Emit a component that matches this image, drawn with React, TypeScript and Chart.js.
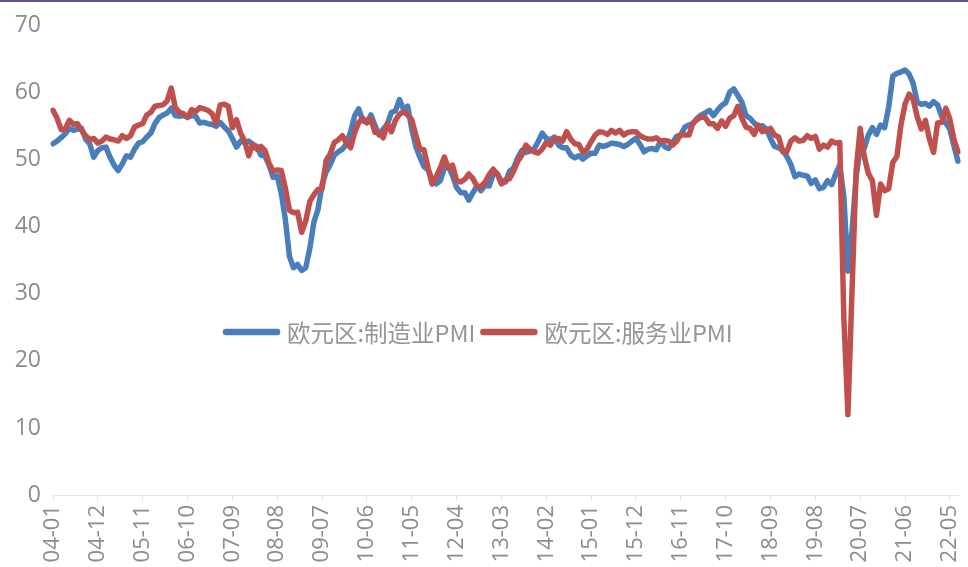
import React, { useEffect, useRef } from "react";
import { Chart, registerables } from "chart.js";

Chart.register(...registerables);

// Monthly observations, 2004-01 .. 2022-07
const FIRST_YEAR = 2004;
const MONTH_COUNT = 223;
const LABEL_STEP = 11;

const months: string[] = [];
for (let i = 0; i < MONTH_COUNT; i++) {
  const y = (FIRST_YEAR + Math.floor(i / 12)) % 100;
  const m = (i % 12) + 1;
  months.push(`${String(y).padStart(2, "0")}-${String(m).padStart(2, "0")}`);
}

const manufacturingLabel = "欧元区:制造业PMI";
const servicesLabel = "欧元区:服务业PMI";

const manufacturingPMI = [
  52.4, 52.8, 53.3, 53.9, 54.7, 54.4, 54.6, 54.7, 53.1, 52.4, 50.4, 51.4, // 2004
  51.8, 51.9, 50.4, 49.2, 48.4, 49.4, 50.6, 50.4, 51.6, 52.5, 52.7, 53.4, // 2005
  54.0, 55.4, 56.3, 56.7, 57.0, 57.7, 56.6, 56.5, 56.6, 56.4, 56.6, 56.5, // 2006
  55.5, 55.6, 55.4, 55.3, 55.0, 55.6, 54.9, 54.3, 53.2, 51.9, 52.8, 52.6, // 2007
  52.8, 52.3, 52.0, 50.7, 50.6, 49.2, 47.4, 47.6, 45.0, 41.1, 35.6, 33.9, // 2008
  34.4, 33.5, 33.9, 36.8, 40.7, 42.6, 46.3, 48.2, 49.3, 50.7, 51.2, 51.6, // 2009
  52.4, 54.2, 56.6, 57.6, 55.8, 55.6, 56.7, 55.1, 53.7, 54.6, 55.3, 57.1, // 2010
  57.3, 59.0, 57.5, 58.0, 54.6, 52.0, 50.4, 49.0, 48.5, 47.1, 46.4, 46.9, // 2011
  48.8, 49.0, 47.7, 45.9, 45.1, 45.1, 44.0, 45.1, 46.1, 45.4, 46.2, 46.1, // 2012
  47.9, 47.9, 46.8, 46.7, 48.3, 48.8, 50.3, 51.4, 51.1, 51.3, 51.6, 52.7, // 2013
  54.0, 53.2, 53.0, 53.4, 52.2, 51.8, 51.8, 50.7, 50.3, 50.6, 50.1, 50.6, // 2014
  51.0, 51.0, 52.2, 52.0, 52.2, 52.5, 52.4, 52.3, 52.0, 52.3, 52.8, 53.2, // 2015
  52.3, 51.2, 51.6, 51.7, 51.5, 52.8, 52.0, 51.7, 52.6, 53.5, 53.7, 54.9, // 2016
  55.2, 55.4, 56.2, 56.7, 57.0, 57.4, 56.6, 57.4, 58.1, 58.5, 60.1, 60.6, // 2017
  59.6, 58.6, 56.6, 56.2, 55.5, 54.9, 55.1, 54.6, 53.2, 52.0, 51.8, 51.4, // 2018
  50.5, 49.3, 47.5, 47.9, 47.7, 47.6, 46.5, 47.0, 45.7, 45.9, 46.9, 46.3, // 2019
  47.9, 49.2, 44.5, 33.4, 39.4, 47.4, 51.8, 51.7, 53.7, 54.8, 53.8, 55.2, // 2020
  54.8, 57.9, 62.5, 62.9, 63.1, 63.4, 62.8, 61.4, 58.6, 58.3, 58.4, 58.0, // 2021
  58.7, 58.2, 56.5, 55.5, 54.6, 52.1, 49.8, // 2022
];

const servicesPMI = [
  57.4, 56.2, 54.5, 54.6, 55.9, 55.3, 55.4, 54.4, 53.6, 53.0, 53.2, 52.5, // 2004
  52.8, 53.4, 53.1, 53.0, 52.8, 53.6, 53.2, 53.6, 54.9, 55.2, 55.4, 56.7, // 2005
  57.1, 58.0, 58.1, 58.2, 58.8, 60.7, 57.8, 57.1, 56.9, 56.3, 57.5, 57.2, // 2006
  57.8, 57.6, 57.4, 56.9, 55.5, 58.2, 58.3, 58.0, 54.8, 56.0, 54.0, 52.8, // 2007
  50.6, 52.3, 51.6, 52.0, 51.4, 49.5, 48.3, 48.5, 48.4, 45.8, 42.5, 42.1, // 2008
  42.2, 39.2, 40.9, 43.8, 44.8, 45.6, 45.7, 49.9, 50.9, 52.6, 53.0, 53.6, // 2009
  52.5, 51.8, 54.1, 55.6, 56.2, 55.5, 56.0, 54.1, 54.1, 53.3, 55.4, 54.2, // 2010
  55.9, 56.8, 57.2, 56.7, 56.0, 53.7, 51.6, 51.5, 48.8, 46.4, 47.5, 48.8, // 2011
  50.4, 48.8, 49.2, 46.9, 46.7, 47.1, 47.9, 47.2, 46.1, 46.0, 46.7, 47.8, // 2012
  48.6, 47.9, 46.4, 47.0, 47.2, 48.3, 49.8, 50.7, 52.2, 51.6, 51.2, 51.0, // 2013
  51.6, 52.6, 52.2, 53.1, 53.2, 52.8, 54.2, 53.1, 52.4, 52.3, 51.1, 51.6, // 2014
  52.7, 53.7, 54.2, 54.1, 53.8, 54.4, 54.0, 54.4, 53.7, 54.1, 54.2, 54.2, // 2015
  53.6, 53.3, 53.1, 53.1, 53.3, 52.8, 52.9, 52.8, 52.2, 52.8, 53.8, 53.7, // 2016
  53.7, 55.5, 56.0, 56.4, 56.3, 55.4, 55.4, 54.7, 55.8, 55.0, 56.2, 56.6, // 2017
  58.0, 56.2, 54.9, 54.7, 53.8, 55.2, 54.2, 54.4, 54.7, 53.7, 53.4, 51.2, // 2018
  51.2, 52.8, 53.3, 52.8, 52.9, 53.6, 53.2, 53.5, 51.6, 52.2, 51.9, 52.8, // 2019
  52.5, 52.6, 26.4, 12.0, 30.5, 48.3, 54.7, 50.5, 48.0, 46.9, 41.7, 46.4, // 2020
  45.4, 45.7, 49.6, 50.5, 55.2, 58.3, 59.8, 59.0, 56.4, 54.6, 55.9, 53.1, // 2021
  51.1, 55.5, 55.6, 57.7, 56.1, 53.0, 51.2, // 2022
];

const Y_MIN = 0;
const Y_MAX = 70;
const Y_STEP = 10;

const BLUE = "#4a7ebb";
const RED = "#c0504d";
const TEXT_GREY = "#8c8c8c";
const LEGEND_GREY = "#959595";
const AXIS_GREY = "#e4e4e4";

// Legend drawn in the middle of the plot, line sample followed by its label
const middleLegend = {
  id: "middleLegend",
  beforeDraw(chart: any) {
    const { ctx, width } = chart;
    ctx.save();
    ctx.fillStyle = "#6a4f8f";
    ctx.fillRect(0, 0, width, 2);
    ctx.restore();
  },
  afterDraw(chart: any) {
    const { ctx, chartArea } = chart;
    const sampleW = 57;
    const textGap = 7;
    const itemGap = 5;
    ctx.save();
    ctx.font = '23.5px "Noto Sans CJK SC", sans-serif';
    ctx.textBaseline = "middle";
    ctx.textAlign = "left";
    let x = chartArea.left + 170;
    const y = chartArea.top + (chartArea.bottom - chartArea.top) * 0.6525;
    chart.data.datasets.forEach((ds: any) => {
      ctx.strokeStyle = ds.borderColor;
      ctx.lineWidth = 6.5;
      ctx.lineCap = "round";
      ctx.beginPath();
      ctx.moveTo(x + 3, y);
      ctx.lineTo(x + sampleW - 3, y);
      ctx.stroke();
      x += sampleW + textGap;
      ctx.fillStyle = LEGEND_GREY;
      ctx.fillText(ds.label, x, y + 1);
      x += ctx.measureText(ds.label).width + itemGap;
    });
    ctx.restore();
  },
};

export default function App() {
  const canvasRef = useRef<HTMLCanvasElement | null>(null);

  useEffect(() => {
    if (!canvasRef.current) return;
    const chart = new Chart(canvasRef.current, {
      type: "line",
      data: {
        labels: months,
        datasets: [
          {
            label: manufacturingLabel,
            data: manufacturingPMI,
            borderColor: BLUE,
            backgroundColor: BLUE,
            borderWidth: 5.5,
            pointRadius: 0,
            tension: 0,
            borderJoinStyle: "round",
            borderCapStyle: "round",
            order: 1,
          },
          {
            label: servicesLabel,
            data: servicesPMI,
            borderColor: RED,
            backgroundColor: RED,
            borderWidth: 5.5,
            pointRadius: 0,
            tension: 0,
            borderJoinStyle: "round",
            borderCapStyle: "round",
            order: 0,
          },
        ],
      },
      options: {
        responsive: false,
        animation: false,
        devicePixelRatio: 1,
        layout: { padding: { top: 24, right: 10, left: 0, bottom: 0 } },
        plugins: {
          legend: { display: false },
          tooltip: { enabled: false },
        },
        scales: {
          x: {
            type: "category",
            offset: false,
            grid: {
              drawOnChartArea: false,
              drawTicks: true,
              tickLength: 6,
              color: AXIS_GREY,
            },
            border: { display: true, color: AXIS_GREY, width: 1 },
            ticks: {
              autoSkip: false,
              minRotation: 90,
              maxRotation: 90,
              padding: 4,
              color: TEXT_GREY,
              font: { family: '"Open Sans", sans-serif', size: 22 },
              callback: (_v: any, i: number) =>
                i % LABEL_STEP === 0 ? months[i] : null,
            },
            afterFit: (scale: any) => {
              scale.height = 72;
              scale.paddingLeft = 0;
              scale.paddingRight = 0;
            },
          },
          y: {
            min: Y_MIN,
            max: Y_MAX,
            grid: { display: false, drawTicks: false },
            border: { display: false },
            ticks: {
              stepSize: Y_STEP,
              padding: 12,
              color: TEXT_GREY,
              font: { family: '"Open Sans", sans-serif', size: 23 },
            },
            afterFit: (scale: any) => {
              scale.width = 53;
            },
          },
        },
      },
      plugins: [middleLegend],
    });
    return () => chart.destroy();
  }, []);

  return (
    <div style={{ position: "fixed", left: 0, top: 0, width: 968, height: 567, background: "#fff" }}>
      <canvas ref={canvasRef} width={968} height={567} style={{ display: "block" }} />
    </div>
  );
}
